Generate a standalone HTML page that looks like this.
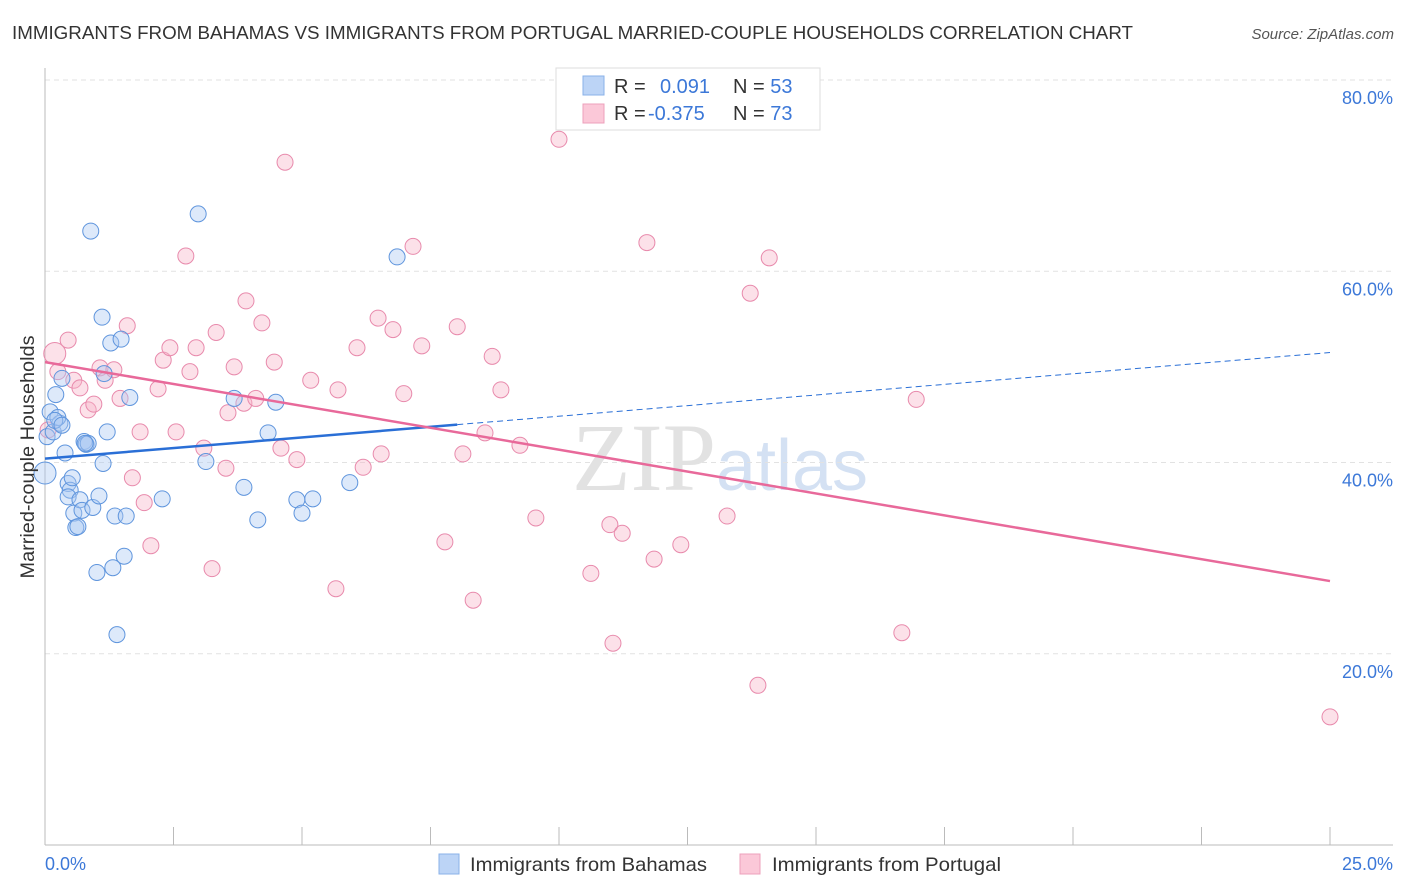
<!DOCTYPE html>
<html><head><meta charset="utf-8"><style>
body{margin:0;background:#fff;font-family:"Liberation Sans",sans-serif;}
svg{display:block}
</style></head><body>
<svg id="chart" width="1406" height="892">
<text x="12" y="39" font-size="18" fill="#333" textLength="1121" lengthAdjust="spacingAndGlyphs">IMMIGRANTS FROM BAHAMAS VS IMMIGRANTS FROM PORTUGAL MARRIED-COUPLE HOUSEHOLDS CORRELATION CHART</text>
<text x="1394" y="39" font-size="15" fill="#555" font-style="italic" text-anchor="end">Source: ZipAtlas.com</text>
<text x="720" y="490" font-size="96" fill="#e2e2e2" text-anchor="middle" font-family="Liberation Serif,serif">ZIP<tspan fill="#d4e1f3" font-family="Liberation Sans,sans-serif" font-size="72">atlas</tspan></text>
<g id="grid"></g>
<g id="axes"></g>
<g id="marks"></g>
<g id="legend">
<rect x="556" y="68" width="264" height="62" fill="#fff" stroke="#ddd"/>
<rect x="583" y="76" width="21" height="19" fill="#bcd4f6" stroke="#8ab2e8"/>
<rect x="583" y="104" width="21" height="19" fill="#fbc8d8" stroke="#eca0bb"/>
<text x="614" y="93" font-size="20" fill="#333">R = <tspan x="660" fill="#3c78d8">0.091</tspan><tspan x="733" fill="#333">N = </tspan><tspan fill="#3c78d8">53</tspan></text>
<text x="614" y="120" font-size="20" fill="#333">R = <tspan x="648" fill="#3c78d8">-0.375</tspan><tspan x="733" fill="#333">N = </tspan><tspan fill="#3c78d8">73</tspan></text>
</g>
<g>
<rect x="439" y="854" width="20" height="20" fill="#bcd4f6" stroke="#8ab2e8"/>
<text x="470" y="871" font-size="19.5" fill="#333" textLength="237" lengthAdjust="spacingAndGlyphs">Immigrants from Bahamas</text>
<rect x="740" y="854" width="20" height="20" fill="#fbc8d8" stroke="#eca0bb"/>
<text x="772" y="871" font-size="19.5" fill="#333" textLength="229" lengthAdjust="spacingAndGlyphs">Immigrants from Portugal</text>
</g>
<text transform="translate(34,457) rotate(-90)" font-size="19" fill="#333" text-anchor="middle" textLength="243" lengthAdjust="spacingAndGlyphs">Married-couple Households</text>
</svg>
<script>
const yTicks=[20,40,60,80];
const yTickLabels=["20.0%","40.0%","60.0%","80.0%"];
const xTicks=[0,2.5,5,7.5,10,12.5,15,17.5,20,22.5,25];
const blueX=[0,0.04,0.1,0.16,0.21,0.29,0.25,0.33,0.39,0.45,0.49,0.53,0.45,0.56,0.6,0.64,0.68,0.72,0.76,0.8,0.84,0.89,0.93,1.01,1.05,1.11,1.13,1.15,1.21,1.28,1.32,1.36,1.4,1.48,1.54,1.58,1.65,2.28,2.98,3.13,3.68,3.87,4.14,4.34,4.49,4.9,5.0,5.21,5.93,6.85,0.19,0.33,0.78];
const blueY=[38.9,42.7,45.3,43.2,47.1,44.1,44.7,48.8,41.0,37.8,37.1,38.4,36.4,34.7,33.2,33.3,36.1,35.0,42.2,41.9,42.0,64.2,35.3,28.5,36.5,55.2,39.9,49.3,43.2,52.5,29.0,34.4,22.0,52.9,30.2,34.4,46.8,36.2,66.0,40.1,46.7,37.4,34.0,43.1,46.3,36.1,34.7,36.2,37.9,61.5,44.4,43.9,42.0];
const pinkX=[0.19,0.06,0.25,0.45,0.56,0.68,0.84,0.95,1.07,1.17,1.34,1.46,1.6,1.7,1.85,1.93,2.06,2.2,2.3,2.43,2.55,2.74,2.82,2.94,3.09,3.25,3.33,3.52,3.56,3.68,3.87,3.91,4.1,4.22,4.46,4.59,4.67,4.9,5.17,5.66,5.7,6.07,6.19,6.48,6.54,6.77,6.98,7.16,7.33,7.78,8.02,8.13,8.33,8.56,8.7,8.87,9.24,9.55,10.0,10.62,10.99,11.05,11.23,11.71,11.85,12.37,13.27,13.72,13.87,14.09,16.67,16.95,25.0];
const pinkY=[51.4,43.4,49.5,52.8,48.6,47.8,45.5,46.1,49.9,48.6,49.7,46.7,54.3,38.4,43.2,35.8,31.3,47.7,50.7,52.0,43.2,61.6,49.5,52.0,41.5,28.9,53.6,39.4,45.2,50.0,46.2,56.9,46.7,54.6,50.5,41.5,71.4,40.3,48.6,26.8,47.6,52.0,39.5,55.1,40.9,53.9,47.2,62.6,52.2,31.7,54.2,40.9,25.6,43.1,51.1,47.6,41.8,34.2,73.8,28.4,33.5,21.1,32.6,63.0,29.9,31.4,34.4,57.7,16.7,61.4,22.2,46.6,13.4];
const blueTrend=[40.4,51.5]; const blueSolidEnd=8.02;
const pinkTrend=[50.5,27.6];
const NS="http://www.w3.org/2000/svg";
const sx=v=>45+v/25*1285, sy=v=>845-v*9.5625;
function mk(parent,tag,attrs){const e=document.createElementNS(NS,tag);for(const k in attrs)e.setAttribute(k,attrs[k]);document.getElementById(parent).appendChild(e);return e;}
yTicks.forEach((t,i)=>{
 let l=mk('grid','line',{x1:45,x2:1393,y1:sy(t),y2:sy(t),stroke:'#e2e2e2','stroke-dasharray':'5,4'});
 
 
 let tx=mk('axes','text',{x:1393,y:sy(t)+24,'text-anchor':'end','font-size':18,fill:'#3c78d8'});tx.textContent=yTickLabels[i];
 
 
});
mk('axes','line',{x1:45,x2:45,y1:68,y2:845,stroke:'#bbb'});
mk('axes','line',{x1:45,x2:1393,y1:845,y2:845,stroke:'#bbb'});
xTicks.forEach(t=>{let l=mk('axes','line',{x1:sx(t),x2:sx(t),y1:827,y2:845,stroke:'#bbb'});
 
 });
let a=mk('axes','text',{x:45,y:870,'font-size':18,fill:'#3c78d8'});a.textContent="0.0%";


let b=mk('axes','text',{x:1393,y:870,'font-size':18,fill:'#3c78d8','text-anchor':'end'});b.textContent="25.0%";


function dots(xs,ys,fill,stroke,name){xs.forEach((x,i)=>{const c=mk('marks','circle',{cx:sx(x),cy:sy(ys[i]),r:(i==0?11:8),fill:fill,'fill-opacity':0.4,stroke:stroke,'stroke-width':1});
 
 });}
dots(pinkX,pinkY,'#f7b4c9','#e88aac','point-portugal');
dots(blueX,blueY,'#a9c7f2','#5f95dd','point-bahamas');
const by=x=>blueTrend[0]+(blueTrend[1]-blueTrend[0])*x/25;
let t1=mk('marks','line',{x1:sx(0),y1:sy(by(0)),x2:sx(blueSolidEnd),y2:sy(by(blueSolidEnd)),stroke:'#2a6fd6','stroke-width':2.5});


let t2=mk('marks','line',{x1:sx(blueSolidEnd),y1:sy(by(blueSolidEnd)),x2:sx(25),y2:sy(by(25)),stroke:'#2a6fd6','stroke-width':1,'stroke-dasharray':'6,4'});


let t3=mk('marks','line',{x1:sx(0),y1:sy(pinkTrend[0]),x2:sx(25),y2:sy(pinkTrend[1]),stroke:'#e8699a','stroke-width':2.5});


</script>
</body></html>
